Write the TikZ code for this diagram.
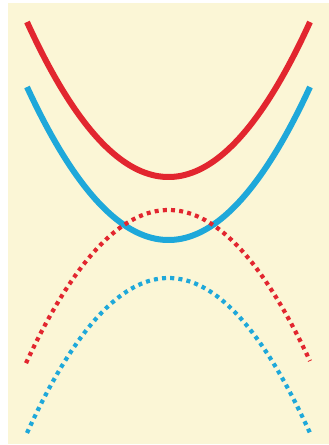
\documentclass[tikz,border=0pt]{standalone}
\usepackage{xcolor}
\usepackage{tikz}
\definecolor{CurveRed}{HTML}{E2262F}
\definecolor{CurveBlue}{HTML}{1EA8DA}
\definecolor{PaperCream}{HTML}{FBF6D6}
\begin{document}
\begin{tikzpicture}[x=1pt,y=-1pt]
\tikzstyle{solidband}=[line width=6pt,samples=80]
\tikzstyle{dotband}=[line width=4.2pt,samples=80,dash pattern=on 4pt off 4.2pt]
\useasboundingbox (0,0) rectangle (329,445);
\fill[white] (0,0) rectangle (329,445);
\fill[PaperCream] (8,3) rectangle (329,444);
\draw[solidband,CurveRed] plot[domain=27:310] (\x,{177-155*((\x-168.5)/141.5)^2});
\draw[solidband,CurveBlue] plot[domain=27:310] (\x,{240-153*((\x-168.5)/141.5)^2});
\draw[dotband,CurveRed] plot[domain=26:310] (\x,{210+151*((\x-168.5)/141.5)^2});
\draw[dotband,CurveBlue] plot[domain=27:310] (\x,{278+155*((\x-168.5)/141.5)^2});
\end{tikzpicture}
\end{document}
